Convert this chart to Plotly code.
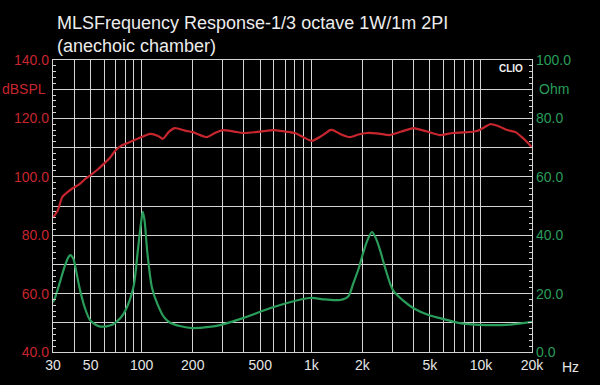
import plotly.graph_objects as go

# ---- data ----
spl_freq = [30, 32, 34, 37, 39, 43, 47, 50, 55, 60, 65, 70, 75, 82, 90, 100, 112, 125, 133, 145,
            157, 180, 200, 242, 270, 300, 350, 400, 500, 600, 700, 800, 900, 1010, 1150, 1290,
            1340, 1500, 1690, 1900, 2130, 2500, 2900, 3400, 4000, 4800, 5700, 6800, 8000, 9500,
            10500, 11300, 12500, 14300, 16000, 17500, 19000, 20000]
spl_db = [86, 88.5, 93, 95, 96, 97.5, 99.5, 100.6, 102.5, 104.5, 106.5, 109, 110.5, 111.5, 112.5,
          113.6, 114.7, 114, 113, 115.5, 116.7, 115.8, 115.3, 113.6, 115, 116, 115.5, 115, 115.5,
          116, 115.5, 115, 113.5, 112.3, 114, 116, 116, 114.5, 113.6, 114.5, 115, 114.8, 114.3,
          115.5, 116.7, 115.5, 114.3, 115, 115.2, 115.7, 117, 118, 117.5, 116, 115.3, 113.5,
          111.5, 110]

imp_freq = [30, 31, 33, 35, 37, 38, 39.5, 41, 43, 46, 49.5, 53, 57, 62, 67, 71, 78, 85, 90, 95,
            99, 101.5, 104, 108, 115, 123, 135, 147, 170, 200, 250, 290, 395, 600, 980, 1200,
            1480, 1650, 1770, 1900, 2020, 2150, 2280, 2400, 2540, 2750, 3030, 3500, 4000, 5000,
            5740, 7500, 10900, 15000, 20000]
imp_ohm = [17, 19, 24, 29, 32.5, 33.2, 32, 28, 22, 15.5, 11, 9.5, 8.7, 8.8, 9.3, 10.3, 13, 17.8,
           23, 35, 44, 48, 45, 34, 22, 16.8, 12, 10, 8.8, 8.2, 8.6, 9.2, 11.6, 15.4, 18.5, 18,
           17.8, 19, 23.6, 28.5, 33.9, 38.5, 41.1, 39, 35, 28, 21.2, 17.5, 15, 12.5, 11.6, 9.9,
           9.2, 9.4, 10.3]

x_grid = [30, 40, 50, 60, 70, 80, 90, 100, 200, 300, 400, 500, 600, 700, 800, 900,
          1000, 2000, 3000, 4000, 5000, 6000, 7000, 8000, 9000, 10000, 20000]
x_labels = ['30', '', '50', '', '', '', '', '100', '200', '', '', '500', '', '', '', '',
            '1k', '2k', '', '', '5k', '', '', '', '', '10k', '20k']
spl_ticks = [40, 50, 60, 70, 80, 90, 100, 110, 120, 130, 140]
spl_labels = ['40.0', '', '60.0', '', '80.0', '', '100.0', '', '120.0', '', '140.0']
ohm_ticks = [0, 10, 20, 30, 40, 50, 60, 70, 80, 90, 100]
ohm_labels = ['0.0', '', '20.0', '', '40.0', '', '60.0', '', '80.0', '', '100.0']

RED = '#c8262f'
GREEN = '#2a9d5a'
GRID = '#d4d4d4'
FONT = 'Arial, Liberation Sans, sans-serif'

fig = go.Figure()
fig.add_trace(go.Scatter(x=spl_freq, y=spl_db, mode='lines', line=dict(color=RED, width=2.2, shape='spline', smoothing=0.6),
                         yaxis='y', showlegend=False))
fig.add_trace(go.Scatter(x=imp_freq, y=imp_ohm, mode='lines', line=dict(color=GREEN, width=2.2, shape='spline', smoothing=0.8),
                         yaxis='y2', showlegend=False))

fig.update_layout(
    width=600, height=385,
    margin=dict(l=53, r=68, t=60, b=33),
    paper_bgcolor='black', plot_bgcolor='black',
    font=dict(family=FONT, size=14, color='#e6e6e6'),
    xaxis=dict(type='log', range=[1.4771, 4.30103], tickvals=x_grid, ticktext=x_labels,
               showgrid=True, gridcolor=GRID, gridwidth=1.4, zeroline=False,
               showline=True, linecolor=GRID, linewidth=1.4, mirror=True,
               ticks='', tickfont=dict(color='#e6e6e6', size=14)),
    yaxis=dict(range=[40, 140], tickvals=spl_ticks, ticktext=spl_labels,
               showgrid=True, gridcolor=GRID, gridwidth=1.4, zeroline=False,
               showline=True, linecolor=GRID, linewidth=1.4,
               ticks='inside', ticklen=4, tickcolor=GRID,
               minor=dict(dtick=2, ticks='inside', ticklen=3, tickcolor=GRID, showgrid=False),
               tickfont=dict(color=RED, size=14)),
    yaxis2=dict(range=[0, 100], tickvals=ohm_ticks, ticktext=ohm_labels, overlaying='y', side='right',
                showgrid=False, zeroline=False, showline=True, linecolor=GRID, linewidth=1.4,
                ticks='inside', ticklen=4, tickcolor=GRID,
                minor=dict(dtick=2, ticks='inside', ticklen=3, tickcolor=GRID, showgrid=False),
                tickfont=dict(color=GREEN, size=14)),
    annotations=[
        dict(text='MLSFrequency Response-1/3 octave 1W/1m 2PI<br>(anechoic chamber)', xref='paper', yref='paper',
             x=0.004, y=1.086, xanchor='left', yanchor='middle', align='left', showarrow=False,
             font=dict(size=18, color='#ececec', family=FONT)),
        dict(text='dBSPL', xref='paper', yref='y', x=-0.01, y=130, xanchor='right', yanchor='middle',
             showarrow=False, font=dict(size=14, color=RED)),
        dict(text='Ohm', xref='paper', yref='y', x=1.01, y=130, xanchor='left', yanchor='middle',
             showarrow=False, font=dict(size=14, color=GREEN)),
        dict(text='Hz', xref='paper', yref='paper', x=1.081, y=-0.05, xanchor='center', yanchor='middle',
             showarrow=False, font=dict(size=14, color='#e6e6e6')),
        dict(text='<b>CLIO</b>', xref='paper', yref='y', x=0.985, y=137, xanchor='right', yanchor='middle',
             showarrow=False, font=dict(size=10, color='#f0f0f0')),
    ],
)

fig.write_html('out.html', config={'displayModeBar': False},
               post_script="document.body.style.margin='0';document.body.style.background='black';")
